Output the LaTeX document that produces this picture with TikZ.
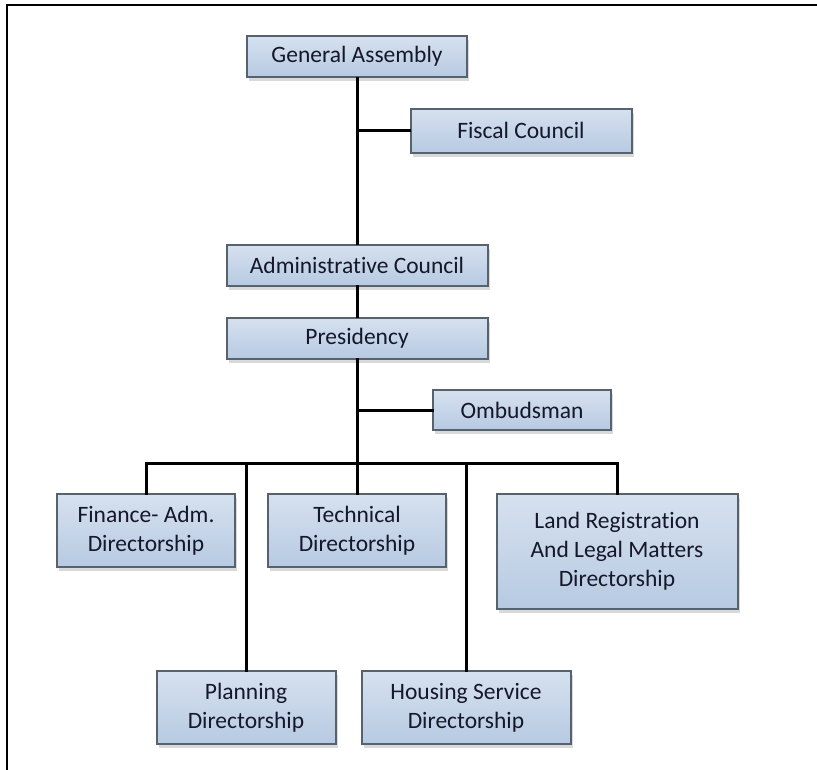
\documentclass[tikz,border=0pt]{standalone}
\usepackage{fontspec}
\setmainfont{Carlito}[Ligatures=NoCommon]
\usepackage{xcolor}
\usepackage{tikz}
\usetikzlibrary{shadows}

\definecolor{boxtop}{HTML}{D6E1EF}
\definecolor{boxbot}{HTML}{B7CAE2}
\definecolor{boxedge}{HTML}{56626E}
\definecolor{boxtext}{HTML}{15172A}

\begin{document}
\begin{tikzpicture}[x=1pt, y=-1pt, line cap=rect,
  unit/.style={draw=boxedge, line width=2pt, top color=boxtop, bottom color=boxbot,
    text=boxtext, font=\fontsize{23.5}{29}\selectfont, align=center, inner sep=0pt,
    drop shadow={shadow xshift=2pt, shadow yshift=-4pt, opacity=0.25, fill=black!60}},
  link/.style={line width=3pt, black}]
\useasboundingbox (0,0) rectangle (817,769);
\draw[line width=2pt] (7,769) -- (7,5) -- (817,5);

\node[unit, minimum width=220, minimum height=41] (ga) at (357,56.5) {General Assembly};
\node[unit, minimum width=221, minimum height=44] (fc) at (521,130.5) {Fiscal Council};
\node[unit, minimum width=261, minimum height=41] (ac) at (357,265) {Administrative Council};
\node[unit, minimum width=261, minimum height=41] (pr) at (357,338) {Presidency};
\node[unit, minimum width=178, minimum height=40] (om) at (522,410) {Ombudsman};
\node[unit, minimum width=178, minimum height=73] (fin) at (146,530.5) {Finance- Adm.\\Directorship};
\node[unit, minimum width=178, minimum height=73] (tec) at (357,530.5) {Technical\\Directorship};
\node[unit, minimum width=241, minimum height=115] (land) at (617,551.5) {Land Registration\\And Legal Matters\\Directorship};
\node[unit, minimum width=179, minimum height=73] (plan) at (246,707.5) {Planning\\Directorship};
\node[unit, minimum width=209, minimum height=73] (hous) at (466,707.5) {Housing Service\\Directorship};
\coordinate (bus) at (357,463);

\draw[link] (ga.south) -- (ac.north);
\draw[link] (ga.south |- fc.west) -- (fc.west);
\draw[link] (ac.south) -- (pr.north);
\draw[link] (pr.south) -- (tec.north);
\draw[link] (pr.south |- om.west) -- (om.west);
\draw[link] (fin.north |- bus) -- (land.north |- bus);
\draw[link] (fin.north |- bus) -- (fin.north);
\draw[link] (land.north |- bus) -- (land.north);
\draw[link] (plan.north |- bus) -- (plan.north);
\draw[link] (hous.north |- bus) -- (hous.north);
\end{tikzpicture}
\end{document}
